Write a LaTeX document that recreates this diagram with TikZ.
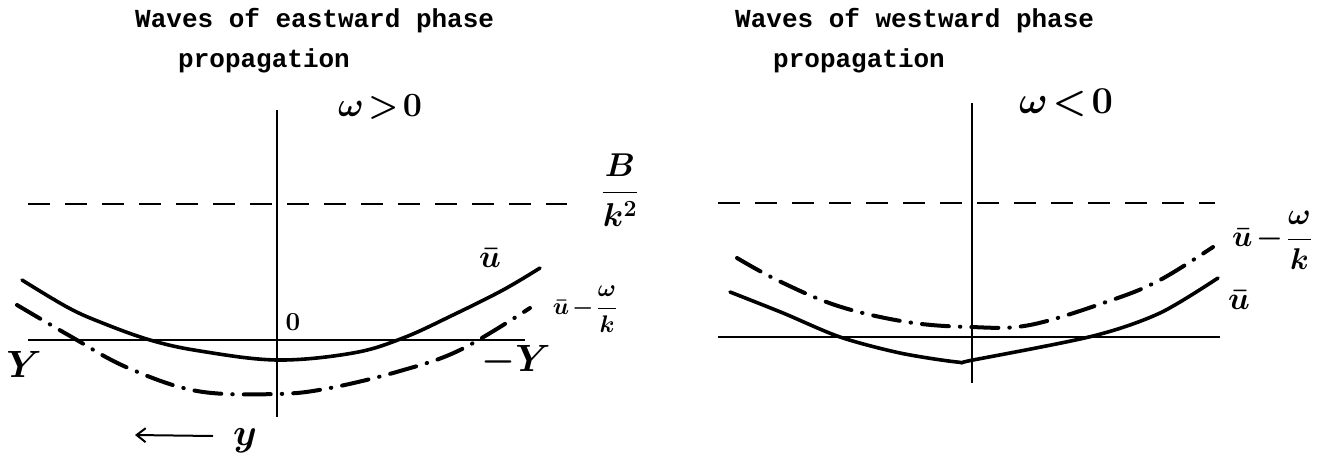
\RequirePackage{fix-cm}
\documentclass[tikz,border=0pt]{standalone}
\usepackage{amsmath}
\usepackage{fontspec}
\setmonofont{Liberation Mono}
\usetikzlibrary{arrows.meta}

\newcommand\titlefont{\ttfamily\bfseries\fontsize{26}{30}\selectfont}
\newcommand\handsize[1]{\fontsize{#1}{#1}\selectfont\boldmath}

\begin{document}
\begin{tikzpicture}[x=1pt,y=-1pt,
    axis/.style={line width=2.2pt},
    guide/.style={line width=2.6pt, dash pattern=on 22pt off 15pt},
    ubar/.style={line width=3.6pt, line cap=round},
    ushift/.style={line width=4pt, line cap=round,
      dash pattern=on 27pt off 11pt on 0.5pt off 11pt},
    heading/.style={anchor=base west, inner sep=0pt, font=\titlefont},
    hand/.style={inner sep=0pt}]
  \useasboundingbox (0,0) rectangle (1322,461);

  % ---- left panel: eastward phase propagation
  \node[heading] (eastA) at (135,27) {Waves of eastward phase};
  \node[heading] (eastB) at (178,67) {propagation};
  \node[hand, font=\handsize{34}] (wpos) at (380,107) {$\omega\mkern2mu{>}\mkern2mu0$};
  % axes and the level beta/k^2
  \draw[axis] (277,110) coordinate (eTop) -- (277,417) coordinate (eBot);
  \draw[axis] (28,340) coordinate (eL) -- (525,340) coordinate (eR);
  \draw[guide] (28,204) coordinate (eGL) -- (567,204) coordinate (eGR);
  \node[hand, font=\handsize{33}] (betaE) at (620,190) {$\dfrac{B}{k^2}$};
  % mean flow and mean flow minus phase speed
  \draw[ubar] plot[smooth, tension=0.6] coordinates {(22,280) (67,307) (100,322) (150,340)
    (200,351) (277,360) (353,353) (403,338) (453,315) (503,290) (540,268)};
  \draw[ushift] plot[smooth, tension=0.6] coordinates {(17,305) (70,336) (126,367)
    (197,391) (277,394) (330,388) (400,371) (460,350) (530,308)};
  % labels
  \node[hand, font=\handsize{32}] (ubarE) at (490,258) {$\bar{u}$};
  \node[hand, font=\handsize{24}] (ushE) at (585,309) {$\bar{u}\mkern-2mu-\mkern-2mu\dfrac{\omega}{k}$};
  \node[hand, font=\handsize{26}] (origE) at (293,322) {$0$};
  \node[hand, font=\handsize{38}] (yposE) at (24,364) {$Y$};
  \node[hand, font=\handsize{38}] (ynegE) at (516,361) {$-Y$};
  \node[hand, font=\handsize{38}] (yvar) at (245,441) {$y$};
  \draw[line width=2pt, -{Straight Barb[length=9pt,width=14pt]}]
    (213,436) coordinate (arrS) -- (135,435) coordinate (arrE);

  % ---- right panel: westward phase propagation
  \node[heading] (westA) at (735,27) {Waves of westward phase};
  \node[heading] (westB) at (773,67) {propagation};
  \node[hand, font=\handsize{38}] (wneg) at (1066,103) {$\omega\mkern2mu{<}\mkern2mu0$};
  \draw[axis] (972,103) coordinate (wTop) -- (972,383) coordinate (wBot);
  \draw[axis] (718,337) coordinate (wL) -- (1220,337) coordinate (wR);
  \draw[guide] (718,203) coordinate (wGL) -- (1215,203) coordinate (wGR);
  \draw[ubar] plot[smooth, tension=0.5] coordinates {(730,292) (783,313) (840,337)
    (900,353) (957,362) (973,360) (1093,336) (1160,313) (1218,278)};
  \draw[ushift] plot[smooth, tension=0.6] coordinates {(737,258) (779,281) (838,306)
    (907,322) (970,327) (1030,325) (1112,300) (1160,280) (1213,247)};
  \node[hand, font=\handsize{30}] (ushW) at (1272,240) {$\bar{u}\mkern-2mu-\mkern-2mu\dfrac{\omega}{k}$};
  \node[hand, font=\handsize{32}] (ubarW) at (1239,300) {$\bar{u}$};
\end{tikzpicture}
\end{document}
